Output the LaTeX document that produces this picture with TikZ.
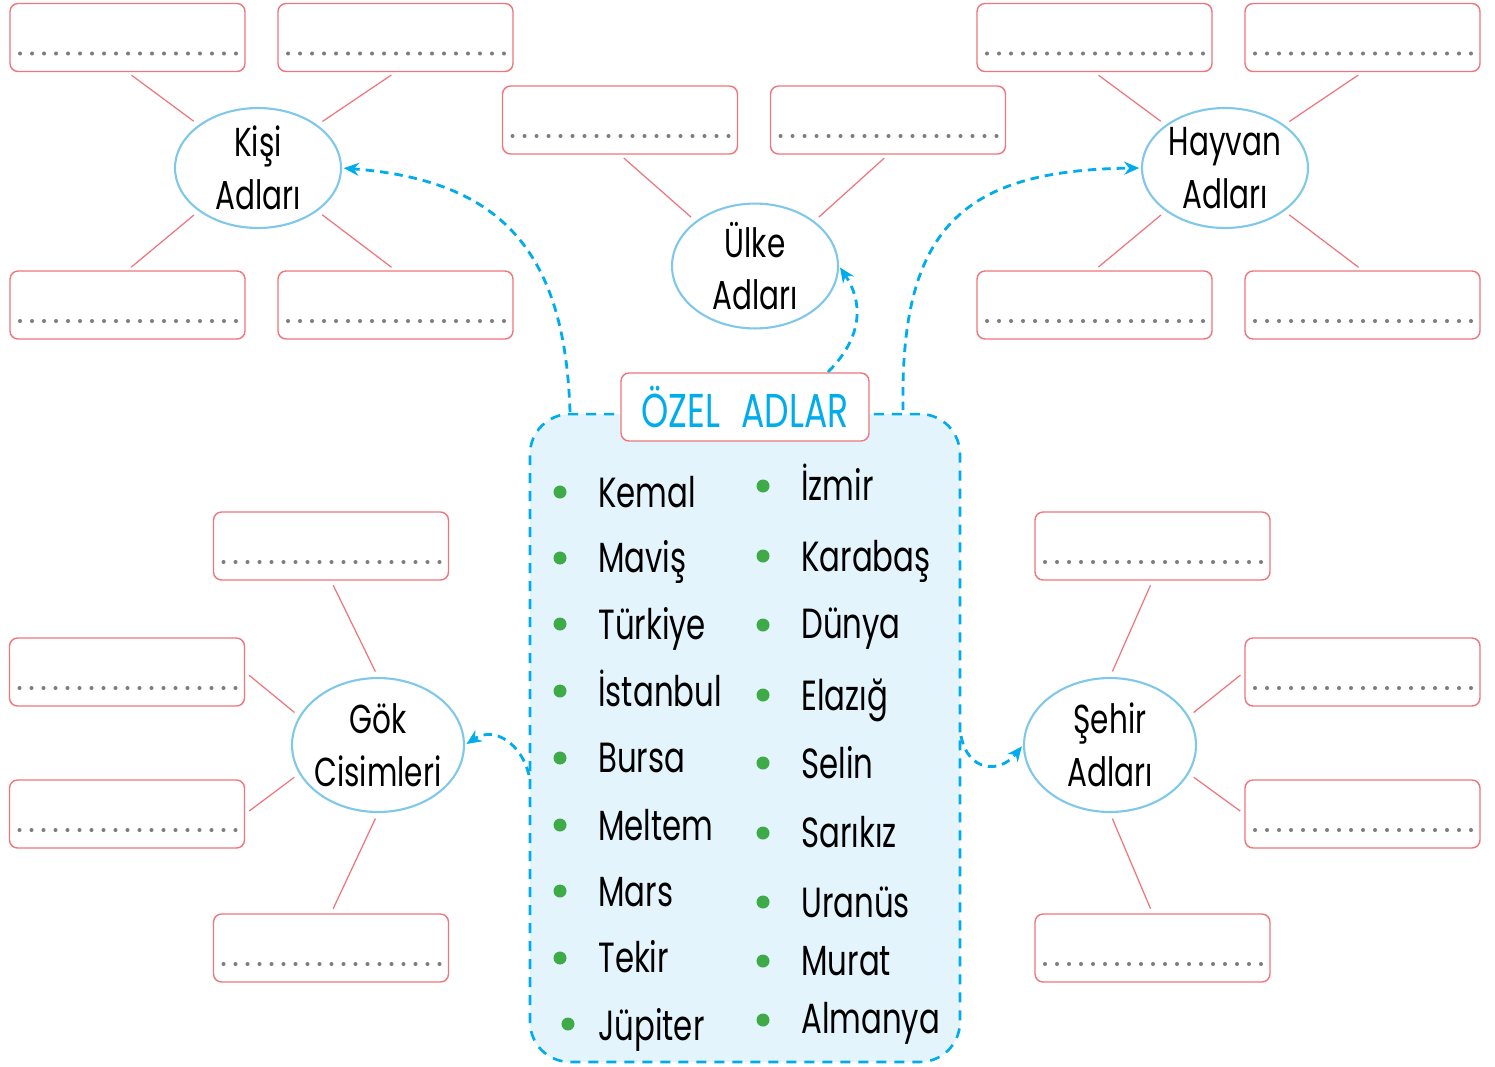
\documentclass[tikz,border=0pt]{standalone}
\usepackage{fontspec}
\setmainfont{Poppins}[FakeStretch=0.73]
\usetikzlibrary{shapes.geometric,arrows.meta}
\definecolor{kirmizi}{RGB}{238,118,124}
\definecolor{mavi}{RGB}{0,172,236}
\definecolor{acikmavi}{RGB}{128,200,234}
\definecolor{zemin}{RGB}{228,244,252}
\definecolor{yesil}{RGB}{62,170,72}
\definecolor{noktagri}{RGB}{125,125,128}
\tikzset{
  kutu/.style={draw=kirmizi, line width=0.8pt, rounded corners=0.16cm, fill=white,
    minimum width=4.7cm, minimum height=1.36cm, inner sep=0pt,
    path picture={\draw[noktagri, line width=2.3pt, line cap=round, dash pattern=on 0pt off 0.24cm]
      ([shift={(0.2cm,0.36cm)}]path picture bounding box.south west) --
      ([shift={(-0.15cm,0.36cm)}]path picture bounding box.south east);}},
  konu/.style={ellipse, draw=acikmavi, line width=1.2pt, minimum width=3.32cm, minimum height=2.4cm,
    inner xsep=-4pt, inner ysep=0pt, align=center, font=\fontsize{23}{30}\selectfont},
  buyukkonu/.style={konu, minimum width=3.44cm, minimum height=2.68cm},
  kol/.style={draw=kirmizi, line width=0.7pt, shorten <=0.1cm, shorten >=0.12cm},
  ok/.style={draw=mavi, line width=1.6pt, dash pattern=on 0.17cm off 0.12cm,
    -{Stealth[length=3mm,width=2.6mm]}, shorten >=1pt},
  nokta/.style={circle, fill=yesil, minimum size=0.26cm, inner sep=0pt},
  madde/.style={anchor=base west, inner sep=0pt, font=\fontsize{24}{28}\selectfont}
}
\begin{document}
\begin{tikzpicture}[x=0.02cm, y=-0.02cm]
  \useasboundingbox[fill=white] (0,0) rectangle (1495,1066);

  % orta kutu
  \node[draw=mavi, line width=1.5pt, dash pattern=on 0.2cm off 0.16cm, fill=zemin, rounded corners=0.8cm,
    minimum width=8.6cm, minimum height=12.96cm] (ozel) at (745,738) {};
  \node[draw=kirmizi, line width=0.8pt, fill=white, rounded corners=0.16cm, minimum width=4.96cm,
    minimum height=1.36cm, text=mavi, font=\fontsize{27}{30}\selectfont] (baslik) at (745,407) {ÖZEL\hspace{0.45em}ADLAR};

  % kisi adlari
  \node[konu] (kisi) at (258,168) {Kişi\\Adları};
  \node[kutu] (kisi1) at (127.5,37.5) {};
  \node[kutu] (kisi2) at (395.5,37.5) {};
  \node[kutu] (kisi3) at (127.5,305) {};
  \node[kutu] (kisi4) at (395.5,305) {};
  \draw[kol] (kisi1.south) -- (kisi.north west);
  \draw[kol] (kisi2.south) -- (kisi.north east);
  \draw[kol] (kisi3.north) -- (kisi.south west);
  \draw[kol] (kisi4.north) -- (kisi.south east);

  % ulke adlari
  \node[konu] (ulke) at (755,266) {Ülke\\Adları};
  \node[kutu] (ulke1) at (620,120) {};
  \node[kutu] (ulke2) at (888,120) {};
  \draw[kol] (ulke1.south) -- (ulke.north west);
  \draw[kol] (ulke2.south) -- (ulke.north east);

  % hayvan adlari
  \node[konu] (hay) at (1225,168) {Hayvan\\Adları};
  \node[kutu] (hay1) at (1094.5,37.5) {};
  \node[kutu] (hay2) at (1362.5,37.5) {};
  \node[kutu] (hay3) at (1094.5,305) {};
  \node[kutu] (hay4) at (1362.5,305) {};
  \draw[kol] (hay1.south) -- (hay.north west);
  \draw[kol] (hay2.south) -- (hay.north east);
  \draw[kol] (hay3.north) -- (hay.south west);
  \draw[kol] (hay4.north) -- (hay.south east);

  % gok cisimleri
  \node[buyukkonu] (gok) at (378,745) {Gök\\Cisimleri};
  \node[kutu] (gok1) at (331,546) {};
  \node[kutu] (gok2) at (127,672) {};
  \node[kutu] (gok3) at (127,814) {};
  \node[kutu] (gok4) at (331,948) {};
  \draw[kol] (gok1.south) -- (gok.north);
  \draw[kol] (gok2.east) -- (gok.160);
  \draw[kol] (gok3.east) -- (gok.200);
  \draw[kol] (gok4.north) -- (gok.south);

  % sehir adlari
  \node[buyukkonu] (seh) at (1110,745) {Şehir\\Adları};
  \node[kutu] (seh1) at (1152.5,546) {};
  \node[kutu] (seh2) at (1362.5,672) {};
  \node[kutu] (seh3) at (1362.5,814) {};
  \node[kutu] (seh4) at (1152.5,948) {};
  \draw[kol] (seh1.south) -- (seh.north);
  \draw[kol] (seh2.west) -- (seh.20);
  \draw[kol] (seh3.west) -- (seh.-20);
  \draw[kol] (seh4.north) -- (seh.south);

  % oklar
  \coordinate (kisiBas) at (570,412);
  \coordinate (ulkeBas) at (828,372);
  \coordinate (hayBas) at (903,410);
  \coordinate (gokBas) at (529,775);
  \coordinate (sehBas) at (961,736);
  \draw[ok] (kisiBas) .. controls (565,250) and (500,180) .. (kisi.east);
  \draw[ok] (ulkeBas) .. controls (865,335) and (862,300) .. (ulke.east);
  \draw[ok] (hayBas) .. controls (900,230) and (960,170) .. (hay.west);
  \draw[ok] (gokBas) .. controls (522,745) and (495,725) .. (gok.east);
  \draw[ok] (sehBas) .. controls (968,772) and (1000,774) .. (seh.west);

  % sol sutun
  \node[nokta] (n1) at (560,492) {};  \node[madde] (kemal) at (598,507) {Kemal};
  \node[nokta] (n2) at (560,558) {};  \node[madde] (mavis) at (598,572) {Maviş};
  \node[nokta] (n3) at (560,624) {};  \node[madde] (turkiye) at (598,639) {Türkiye};
  \node[nokta] (n4) at (560,691) {};  \node[madde] (istanbul) at (598,706) {İstanbul};
  \node[nokta] (n5) at (560,758) {};  \node[madde] (bursa) at (598,772) {Bursa};
  \node[nokta] (n6) at (560,825) {};  \node[madde] (meltem) at (598,840) {Meltem};
  \node[nokta] (n7) at (560,891) {};  \node[madde] (mars) at (598,906) {Mars};
  \node[nokta] (n8) at (560,958) {};  \node[madde] (tekir) at (598,972) {Tekir};
  \node[nokta] (n9) at (568,1024) {}; \node[madde] (jupiter) at (598,1040) {Jüpiter};

  % sag sutun
  \node[nokta] (m1) at (763,486) {};  \node[madde] (izmir) at (801,500) {İzmir};
  \node[nokta] (m2) at (763,556) {};  \node[madde] (karabas) at (801,571) {Karabaş};
  \node[nokta] (m3) at (763,625) {};  \node[madde] (dunya) at (801,638) {Dünya};
  \node[nokta] (m4) at (763,695) {};  \node[madde] (elazig) at (801,710) {Elazığ};
  \node[nokta] (m5) at (763,763) {};  \node[madde] (selin) at (801,778) {Selin};
  \node[nokta] (m6) at (763,833) {};  \node[madde] (sarikiz) at (801,847) {Sarıkız};
  \node[nokta] (m7) at (763,902) {};  \node[madde] (uranus) at (801,917) {Uranüs};
  \node[nokta] (m8) at (763,961) {};  \node[madde] (murat) at (801,975) {Murat};
  \node[nokta] (m9) at (763,1020) {}; \node[madde] (almanya) at (801,1033) {Almanya};
\end{tikzpicture}
\end{document}
